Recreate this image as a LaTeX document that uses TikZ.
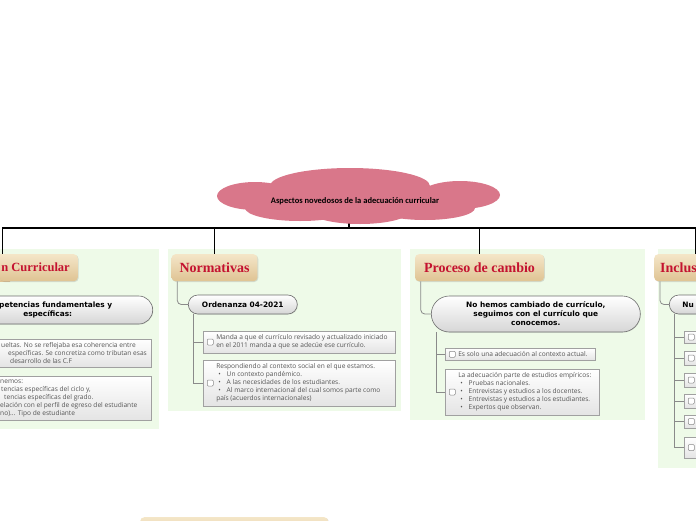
\documentclass[tikz,border=0pt]{standalone}
\usepackage{fontspec}
\setmainfont{Carlito}
\newfontfamily\pillfont{DejaVu Sans}
\newfontfamily\titlefont{Liberation Serif}
\newfontfamily\leaffont{Open Sans}
\usetikzlibrary{positioning,shadows}
\definecolor{panelgreen}{HTML}{EEFAE8}
\definecolor{tantop}{HTML}{F4E6C8}
\definecolor{tanbot}{HTML}{DFC393}
\definecolor{titlered}{HTML}{C41230}
\definecolor{cloudpink}{HTML}{D9778A}
\definecolor{linkgray}{HTML}{8A8A8A}
\definecolor{leaftext}{HTML}{555555}
\definecolor{pillline}{HTML}{6E6E6E}
\definecolor{pillbot}{HTML}{D6D6D6}
\definecolor{leafline}{HTML}{A0A0A0}
\definecolor{leafbot}{HTML}{E4E4E4}
\definecolor{chkline}{HTML}{8A8A8A}
\pgfdeclarelayer{panels}
\pgfdeclarelayer{links}
\pgfsetlayers{panels,links,main}
\newcommand{\leafbox}[2]{\hspace*{10pt}\parbox[c]{#1}{\raggedright #2}}
\newcommand{\itm}{\hspace*{2pt}\textbullet\hspace{6pt}}

\begin{document}
\begin{tikzpicture}[x=1pt,y=-1pt,
root/.style={font=\bfseries\fontsize{8.5}{10}\selectfont,inner sep=0pt,minimum height=42pt},
title/.style={rounded corners=4pt,top color=tantop,bottom color=tanbot,minimum height=27pt,inner xsep=8pt,
  font=\titlefont\bfseries\fontsize{14}{16}\selectfont,text=titlered,
  drop shadow={shadow xshift=0.8pt,shadow yshift=-0.8pt,opacity=0.25}},
pill/.style={draw=pillline,line width=0.6pt,top color=white,bottom color=pillbot,align=center,inner xsep=10pt,
  font=\pillfont\bfseries\fontsize{7.4}{9}\selectfont,
  drop shadow={shadow xshift=0.6pt,shadow yshift=-0.6pt,opacity=0.2}},
leaf/.style={draw=leafline,line width=0.5pt,top color=white,bottom color=leafbot,anchor=north west,
  inner xsep=3pt,inner ysep=3.5pt,font=\leaffont\fontsize{6.6}{8}\selectfont,text=leaftext},
chk/.style={draw=chkline,fill=white,rounded corners=1pt,minimum size=6pt,inner sep=0pt,line width=0.5pt},
link/.style={draw=linkgray,line width=0.8pt},
tree/.style={draw=black,line width=1.3pt}]
\useasboundingbox (0,0) rectangle (696,520);

% panels behind each branch
\begin{pgfonlayer}{panels}
\fill[panelgreen] (-10,249) rectangle (159,429);
\fill[panelgreen] (168,249) rectangle (401,411);
\fill[panelgreen] (410,249) rectangle (645,420);
\fill[panelgreen] (658,249) rectangle (700,468);
\end{pgfonlayer}

% cloud
\fill[cloudpink] (350,186) ellipse (80 and 18);
\fill[cloudpink] (255,196) ellipse (38 and 14);
\fill[cloudpink] (460,195) ellipse (40 and 14);
\fill[cloudpink] (300,208) ellipse (55 and 13);
\fill[cloudpink] (360,211) ellipse (50 and 13);
\fill[cloudpink] (425,208) ellipse (50 and 12);
\fill[cloudpink] (355,200) ellipse (110 and 16);
\node[root] (root) at (355,201) {Aspectos novedosos de la adecuación curricular};
\coordinate (hub) at (349,228);

% titles
\path[top color=tantop,bottom color=tanbot] (-10,254) rectangle (10,281);
\node[title,anchor=north east,inner xsep=1pt,font=\titlefont\bfseries\fontsize{12.5}{16}\selectfont]
  (t1) at (78,254) {\makebox[76pt][r]{n Curricular\hspace*{7pt}}};
\node[title,anchor=north,minimum width=84pt] (t2) at (214.5,254) {Normativas};
\node[title,anchor=north,minimum width=129pt] (t3) at (479.5,254) {Proceso de cambio};
\node[title,anchor=north west,text width=70pt,align=left,inner xsep=6pt] (t4) at (654,254) {Inclus};
\node[title,anchor=north west,minimum width=188pt] (t5) at (140,517) {};

% second level
\node[pill,anchor=east,minimum width=210pt,minimum height=28pt,rounded corners=14pt] (p1) at (153,310)
  {\hspace*{16pt}petencias fundamentales y\\específicas:};
\node[pill,anchor=west,minimum width=109pt,minimum height=19pt,rounded corners=9.5pt] (p2) at (188,304.5) {Ordenanza 04-2021};
\node[pill,anchor=west,minimum width=209pt,minimum height=36pt,rounded corners=18pt] (p3) at (431,314)
  {No hemos cambiado de currículo,\\seguimos con el currículo que\\conocemos.};
\node[pill,anchor=west,minimum height=19pt,rounded corners=9.5pt,text width=90pt,align=left,inner xsep=13pt] (p4) at (669,304.5) {Nu};

% leaves
\node[leaf] (l11) at (-20,339) {\leafbox{155pt}{\hspace*{8pt}ueltas. No se reflejaba esa coherencia entre\\
  \hspace*{15pt}específicas. Se concretiza como tributan esas\\\hspace*{17pt}desarrollo de las C.F}};
\node[leaf] (l12) at (-20,376) {\leafbox{155pt}{\hspace*{7pt}nemos:\\\hspace*{8pt}tencias específicas del ciclo y,\\
  \hspace*{11pt}tencias específicas del grado.\\\hspace*{7pt}elación con el perfil de egreso del estudiante\\\hspace*{7pt}no)... Tipo de estudiante}};
\node[leaf] (l21) at (203,331) {\leafbox{176pt}{Manda a que el currículo revisado y actualizado iniciado\\
  en el 2011 manda a que se adecúe ese currículo.}};
\node[leaf] (l22) at (203,360) {\leafbox{176pt}{Respondiendo al contexto social en el que estamos.\\
  \itm Un contexto pandémico.\\\itm A las necesidades de los estudiantes.\\
  \itm Al marco internacional del cual somos parte como\\país (acuerdos internacionales)}};
\node[leaf] (l31) at (445,348) {\leafbox{134pt}{Es solo una adecuación al contexto actual.}};
\node[leaf] (l32) at (445,369) {\leafbox{138pt}{La adecuación parte de estudios empíricos:\\
  \itm Pruebas nacionales.\\\itm Entrevistas y estudios a los docentes.\\
  \itm Entrevistas y estudios a los estudiantes.\\\itm Expertos que observan.}};
\node[leaf,anchor=west,minimum width=40pt,minimum height=12pt] (l41) at (684,337) {};
\node[leaf,anchor=west,minimum width=40pt,minimum height=14pt] (l42) at (684,358) {};
\node[leaf,anchor=west,minimum width=40pt,minimum height=14pt] (l43) at (684,380) {};
\node[leaf,anchor=west,minimum width=40pt,minimum height=14pt] (l44) at (684,401) {};
\node[leaf,anchor=west,minimum width=40pt,minimum height=13pt] (l45) at (684,421.5) {};
\node[leaf,anchor=west,minimum width=40pt,minimum height=21pt] (l46) at (684,447.5) {};
\foreach \n in {l11,l12,l21,l22,l31,l32,l41,l42,l43,l44,l45,l46}
  \node[chk,right=4pt of \n.west] (c\n) {};

% connectors
\begin{pgfonlayer}{links}
\draw[tree] (root.south -| hub) -- (hub);
\draw[tree] (hub) -| ([xshift=3pt]t1.north west);
\foreach \t in {t2,t3,t4}
  \draw[tree] (hub) -| (\t.north);
\foreach \t/\p in {t2/p2,t3/p3,t4/p4}
  \draw[link,rounded corners=4pt] ([xshift=6pt]\t.south west) |- (\p.west);
\foreach \p/\l in {p1/l11,p1/l12,p2/l21,p2/l22,p3/l31,p3/l32,p4/l41,p4/l42,p4/l43,p4/l44,p4/l45,p4/l46}
  \draw[link] ([xshift=5pt]\p.south west) |- (\l.west);
\end{pgfonlayer}
\end{tikzpicture}
\end{document}
